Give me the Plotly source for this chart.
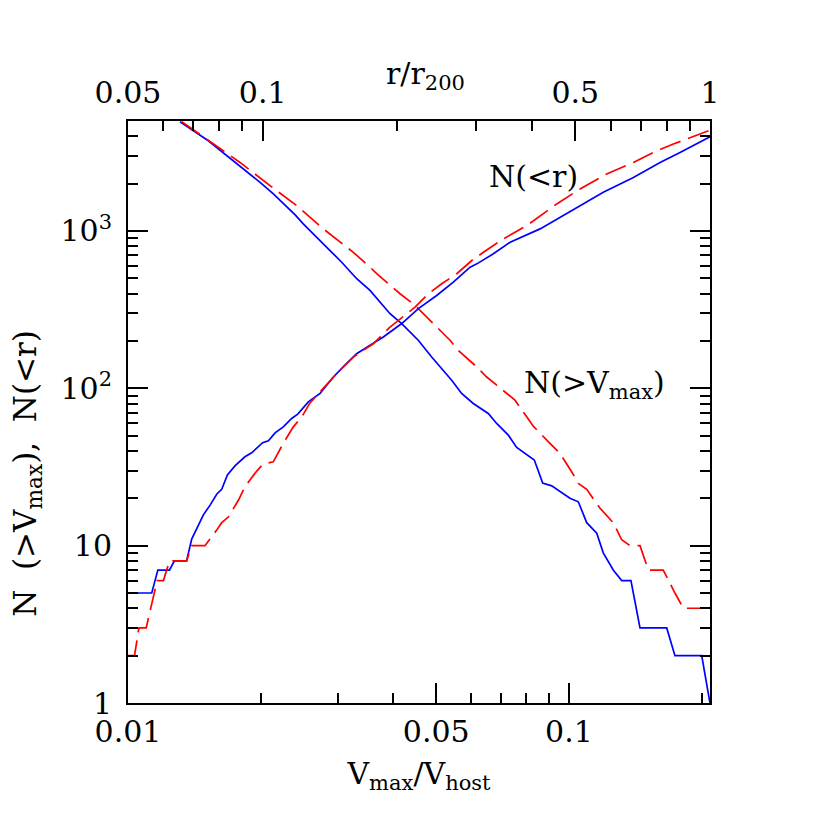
import plotly.graph_objects as go

# N(>Vmax) against Vmax/Vhost (bottom axis)
vmax_blue = [0.01312, 0.01521, 0.01993, 0.02136, 0.02391, 0.02497, 0.02871, 0.03052, 0.03301,
             0.03538, 0.03928, 0.04175, 0.04552, 0.04882, 0.0542, 0.05709, 0.06067, 0.06561,
             0.06855, 0.07285, 0.07611, 0.08019, 0.08344, 0.08717, 0.09138, 0.1005, 0.1050,
             0.1097, 0.1156, 0.1196, 0.1260, 0.1317, 0.1382, 0.1449, 0.1666, 0.1739, 0.2000, 0.2088]
nv_blue = [4950, 3743, 2037, 1719, 1271, 1109, 751, 633, 497,
           419, 298, 258, 202, 158, 112.6, 92.7, 80.1, 69.2,
           59.8, 50.4, 42.1, 37.7, 35.0, 25, 24, 20, 19,
           14, 12, 9, 7, 6, 6, 3, 3, 2, 2, 1]

vmax_red = [0.01324, 0.01548, 0.01795, 0.02099, 0.02413, 0.02773, 0.03243, 0.03538, 0.03664,
            0.04139, 0.04475, 0.04923, 0.05374, 0.0561, 0.06175, 0.06508, 0.07096, 0.07543,
            0.08019, 0.08299, 0.09056, 0.09541, 0.1014, 0.1050, 0.1097, 0.1176, 0.1260, 0.1317,
            0.1375, 0.1449, 0.1513, 0.1636, 0.1739, 0.1817, 0.2088]
nv_red = [4950, 3652, 2726, 1941, 1449, 1031, 732, 589, 535,
          399, 337, 258, 202, 174, 137, 118, 97.3, 84.1,
          65.9, 57.5, 44.7, 38.6, 29.5, 24.9, 22.8, 17.3, 14.0, 10.9,
          10, 10, 7, 7, 5, 4, 4]

# N(<r) against r/r200 (top axis)
r_blue = [0.05, 0.0565, 0.0583, 0.0619, 0.0635, 0.0676, 0.0694, 0.0737, 0.0763, 0.0790,
          0.0810, 0.0834, 0.0867, 0.0913, 0.0945, 0.1000, 0.1030, 0.1066, 0.1112, 0.1161,
          0.1198, 0.1265, 0.1344, 0.1439, 0.1541, 0.1622, 0.1738, 0.1861, 0.2046, 0.2229,
          0.2449, 0.2668, 0.2909, 0.3012, 0.3279, 0.3574, 0.4170, 0.4622, 0.5209, 0.5774,
          0.6741, 0.7735, 0.8571, 1.0]
nr_blue = [5, 5, 7, 7, 8, 8, 11, 15.7, 18.1, 21.3,
           22.8, 28.1, 32.1, 36.7, 38.9, 45.1, 46.4, 52.1, 56.9, 64.3,
           68.5, 82.0, 92.7, 118, 144, 166, 188, 212, 258, 321,
           389, 473, 589, 618, 716, 848, 1031, 1222, 1486, 1760,
           2190, 2726, 3155, 3970]

r_red = [0.05, 0.0517, 0.0529, 0.0549, 0.0581, 0.0600, 0.0619, 0.0676, 0.0694, 0.0743,
         0.0790, 0.0810, 0.0838, 0.0883, 0.0913, 0.0970, 0.1003, 0.1056, 0.1112, 0.1171,
         0.1223, 0.1276, 0.1344, 0.1464, 0.1595, 0.1767, 0.1926, 0.2191, 0.2346, 0.2514,
         0.2716, 0.2934, 0.3115, 0.3452, 0.3896, 0.4544, 0.5122, 0.5876, 0.6741, 0.7603,
         0.8281, 1.0]
nr_red = [2, 2, 3, 3, 6, 6, 8, 8, 10, 10,
          12.6, 14.0, 15.2, 19.5, 23.7, 29.8, 33.0, 34.1, 44.7, 56.9,
          65.9, 80.8, 94.9, 124, 158, 192, 245, 328, 399, 462,
          535, 649, 732, 891, 1082, 1486, 1849, 2302, 2726, 3235,
          3567, 4375]

bottom_minor = [0.02, 0.03, 0.04, 0.06, 0.07, 0.08, 0.09, 0.2]
top_minor = [0.06, 0.07, 0.08, 0.09, 0.2, 0.3, 0.4, 0.6, 0.7, 0.8, 0.9]
y_major = [1, 10, 100, 1000]
y_major_text = ["1", "10", "10<sup>2</sup>", "10<sup>3</sup>"]
y_minor = [m * 10 ** k for k in range(4) for m in range(2, 10) if m * 10 ** k < 5000]

FONT = "DejaVu Serif"
FS = 30
BLUE = "#0000ff"
RED = "#ff0000"
Y_RANGE = [0, 3.69897]

fig = go.Figure()
fig.add_trace(go.Scatter(x=vmax_blue, y=nv_blue, mode="lines", line=dict(color=BLUE, width=1.7)))
fig.add_trace(go.Scatter(x=vmax_red, y=nv_red, mode="lines",
                         line=dict(color=RED, width=1.7, dash="22px,8px")))
fig.add_trace(go.Scatter(x=r_blue, y=nr_blue, mode="lines", xaxis="x2",
                         line=dict(color=BLUE, width=1.7)))
fig.add_trace(go.Scatter(x=r_red, y=nr_red, mode="lines", xaxis="x2",
                         line=dict(color=RED, width=1.7, dash="22px,8px")))
# empty traces so the extra tick-only y axes get drawn
for ya in ["y2", "y3", "y4"]:
    fig.add_trace(go.Scatter(x=[None], y=[None], yaxis=ya, mode="lines", hoverinfo="skip"))

axis_common = dict(type="log", showgrid=False, zeroline=False, ticks="inside",
                   ticklen=20, tickwidth=1.6, tickcolor="black",
                   showline=True, linecolor="black", linewidth=2,
                   tickfont=dict(family=FONT, size=FS, color="black"))
minor_common = dict(ticks="inside", ticklen=10, tickwidth=1.6, tickcolor="black", tickmode="array")
y_minor_axis = dict(type="log", range=Y_RANGE, overlaying="y", anchor="x",
                    showgrid=False, zeroline=False, showline=False,
                    ticks="inside", ticklen=10, tickwidth=1.6, tickcolor="black",
                    tickmode="array", tickvals=y_minor, showticklabels=False)

fig.update_layout(
    width=822, height=822,
    margin=dict(l=120, r=120, t=113, b=127),
    paper_bgcolor="white", plot_bgcolor="white",
    showlegend=False,
    font=dict(family=FONT, color="black"),
    xaxis=dict(**axis_common, range=[-2, -0.6802],
               tickmode="array", tickvals=[0.01, 0.05, 0.1], ticktext=["0.01", "0.05", "0.1"],
               ticklabelstandoff=1,
               minor=dict(**minor_common, tickvals=bottom_minor),
               title=dict(text="V<sub>max</sub>/V<sub>host</sub>",
                          font=dict(family=FONT, size=FS), standoff=15)),
    xaxis2=dict(**axis_common, range=[-1.30103, 0], overlaying="x", side="top", anchor="y",
                tickmode="array", tickvals=[0.05, 0.1, 0.5, 1], ticktext=["0.05", "0.1", "0.5", "1"],
                ticklabelstandoff=4,
                minor=dict(**minor_common, tickvals=top_minor)),
    yaxis=dict(**axis_common, range=Y_RANGE,
               tickmode="array", tickvals=y_major, ticktext=y_major_text,
               ticklabelstandoff=8),
    yaxis2=dict(**axis_common, range=Y_RANGE, overlaying="y", anchor="x", side="right",
                tickmode="array", tickvals=y_major, showticklabels=False),
    yaxis3=dict(**y_minor_axis, side="left"),
    yaxis4=dict(**y_minor_axis, side="right"),
    annotations=[
        dict(text="r/r<sub>200</sub>", xref="paper", yref="paper", x=0.512, y=1.078,
             showarrow=False, xanchor="center", yanchor="middle", font=dict(family=FONT, size=FS)),
        dict(text="N&nbsp;&nbsp;(&gt;V<sub>max</sub>),&nbsp;&nbsp;N(&lt;r)", textangle=-90,
             xref="paper", yref="paper", x=-0.174, y=0.395, showarrow=False,
             xanchor="center", yanchor="middle", font=dict(family=FONT, size=31)),
        dict(text="N(&lt;r)", xref="paper", yref="paper", x=0.696, y=0.904,
             showarrow=False, xanchor="center", yanchor="middle", font=dict(family=FONT, size=FS)),
        dict(text="N(&gt;V<sub>max</sub>)", xref="paper", yref="paper", x=0.801, y=0.548,
             showarrow=False, xanchor="center", yanchor="middle", font=dict(family=FONT, size=FS)),
    ],
)

fig.write_html("out.html")
